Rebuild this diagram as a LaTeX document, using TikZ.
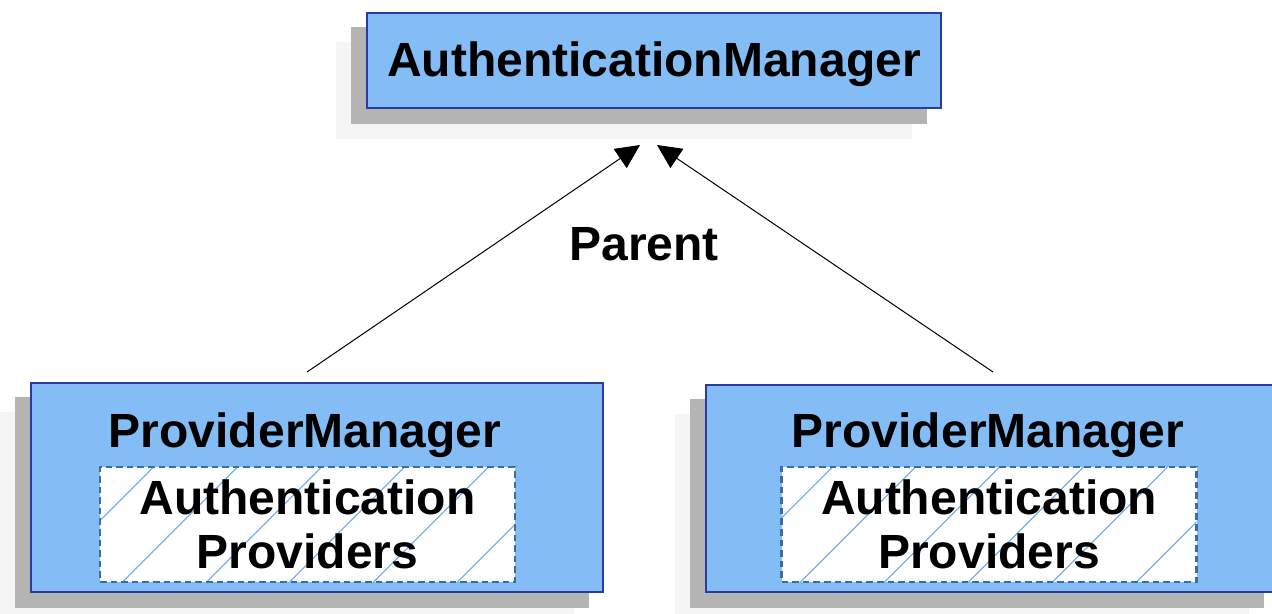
\documentclass[tikz,border=0pt]{standalone}
\usepackage{fontspec}
\setmainfont{Liberation Sans}
\usetikzlibrary{arrows.meta,patterns.meta,calc,backgrounds}
\definecolor{boxblue}{HTML}{84BDF6}
\definecolor{boxedge}{HTML}{2B3A9E}
\definecolor{dashedge}{HTML}{3A6CA6}
\definecolor{hatchcol}{HTML}{80B9F0}
\definecolor{shadowdark}{HTML}{B4B4B4}
\definecolor{shadowlight}{HTML}{F5F5F5}
\begin{document}
\begin{tikzpicture}[x=0.5pt,y=-0.5pt,
  lbl/.style={font=\bfseries\fontsize{24}{27}\selectfont, inner sep=0pt, align=center},
  bluebox/.style={draw=boxedge, line width=1pt, fill=boxblue, inner sep=0pt},
  provbox/.style={preaction={fill=white},
    pattern={Lines[angle=45,distance=30pt,line width=0.7pt]}, pattern color=hatchcol,
    postaction={draw=dashedge, dash pattern=on 3.3pt off 2pt, line width=1.4pt},
    inner sep=0pt, minimum width=207.5pt, minimum height=57.5pt},
  parentarrow/.style={draw=black, line width=0.5pt, -{Triangle[length=12pt,width=11.5pt]}}]
\useasboundingbox (0,0) rectangle (1272,614);

% boxes
\node[bluebox, minimum width=287pt, minimum height=47.5pt] (am) at (654,60.5) {};
\node[bluebox, minimum width=286pt, minimum height=104.5pt] (pml) at (317,487.5) {};
\node[bluebox, minimum width=286pt, minimum height=103.5pt] (pmr) at (992,488.5) {};
\node[provbox] (apl) at (307.5,524.5) {};
\node[provbox] (apr) at (989,524.5) {};

% shadows
\begin{scope}[on background layer]
  \foreach \n in {am,pml,pmr}{
    \fill[shadowlight] ($(\n.north west)+(-30,30)$) rectangle ($(\n.south east)+(-30,30)$);
    \fill[shadowdark] ($(\n.north west)+(-15,15)$) rectangle ($(\n.south east)+(-15,15)$);
  }
\end{scope}

% labels
\node[lbl, anchor=base] (amt) at (654,77) {AuthenticationManager};
\node[lbl, anchor=base] (pmlt) at (305,447) {ProviderManager};
\node[lbl, anchor=base] (pmrt) at (988,447) {ProviderManager};
\node[lbl, anchor=base] (aplt) at (307.5,568) {Authentication\\Providers};
\node[lbl, anchor=base] (aprt) at (989,568) {Authentication\\Providers};
\node[lbl, anchor=base] (parent) at (644,261) {Parent};

% connectors
\coordinate (l0) at (307,372);
\coordinate (l1) at (640,145);
\coordinate (r0) at (993,372);
\coordinate (r1) at (657,145);
\draw[parentarrow] (l0) -- (l1);
\draw[parentarrow] (r0) -- (r1);
\end{tikzpicture}
\end{document}
